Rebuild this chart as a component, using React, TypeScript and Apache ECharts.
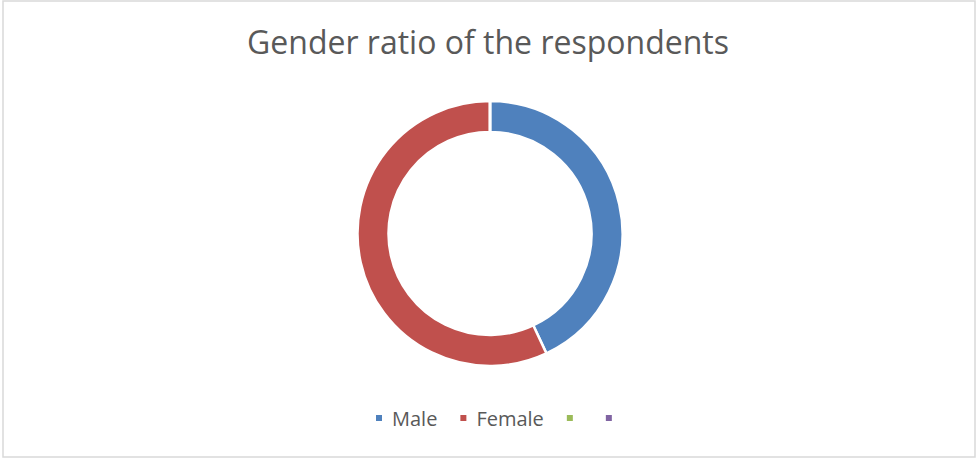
import React, { useEffect, useRef } from "react";
import * as echarts from "echarts";

const categories = ["Male", "Female", "\u200b", "\u200b\u200b"];
const values = [43, 57, 0, 0];
const colors = ["#4f81bd", "#c0504d", "#9bbb59", "#8064a2"];
const titleText = "Gender ratio of the respondents";

export default function App() {
  const ref = useRef<HTMLDivElement>(null);
  useEffect(() => {
    document.body.style.margin = "0";
    const chart = echarts.init(ref.current!, null, { renderer: "svg" });
    chart.setOption({
      animation: false,
      backgroundColor: "#ffffff",
      title: {
        text: titleText,
        left: "center",
        top: 25,
        padding: 0,
        textStyle: { fontFamily: "Open Sans", fontSize: 32, fontWeight: "normal", color: "#595959" },
      },
      legend: {
        left: 374,
        top: 408,
        padding: 0,
        icon: "rect",
        itemWidth: 8,
        itemHeight: 8,
        itemGap: 21,
        data: categories,
        textStyle: { fontFamily: "Open Sans", fontSize: 20, color: "#595959", padding: [0, 0, 0, 4] },
      },
      color: colors,
      graphic: [
        {
          type: "rect",
          shape: { x: 3, y: 1, width: 972, height: 456 },
          style: { fill: "none", stroke: "#d9d9d9", lineWidth: 1.5 },
          silent: true,
        },
      ],
      series: [
        {
          type: "pie",
          center: [490, 233.5],
          radius: [101.5, 132.5],
          startAngle: 90,
          clockwise: true,
          label: { show: false },
          labelLine: { show: false },
          emphasis: { disabled: true },
          itemStyle: { borderColor: "#ffffff", borderWidth: 2.5 },
          data: categories.map((c, i) => ({ name: c, value: values[i] })),
        },
      ],
    });
    return () => chart.dispose();
  }, []);
  return <div ref={ref} style={{ width: 976, height: 459 }} />;
}
